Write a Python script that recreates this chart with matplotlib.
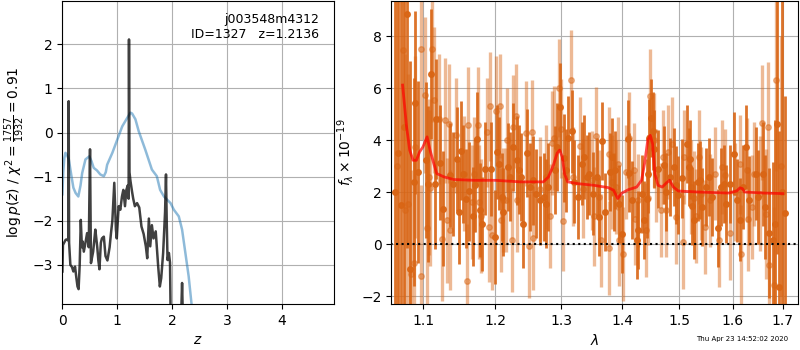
import numpy as np
import matplotlib
matplotlib.use('Agg')
import matplotlib.pyplot as plt
from matplotlib.ticker import FixedLocator, NullLocator, NullFormatter

# --- left panel: log p(z) and scaled chi2 ---
z_pz = [0.0, 0.01, 0.03, 0.06, 0.095, 0.108, 0.114, 0.122, 0.145, 0.175, 0.20, 0.23,
        0.255, 0.275, 0.295, 0.315, 0.335, 0.355, 0.37, 0.39, 0.42, 0.45, 0.48, 0.503,
        0.52, 0.56, 0.58, 0.60, 0.635, 0.655, 0.675, 0.70, 0.72, 0.755, 0.785, 0.82,
        0.86, 0.885, 0.91, 0.945, 0.975, 0.99, 1.025, 1.055, 1.085, 1.11, 1.14, 1.165,
        1.19, 1.206, 1.213, 1.222, 1.24, 1.27, 1.29, 1.32, 1.36, 1.40, 1.44, 1.48,
        1.52, 1.545, 1.575, 1.60, 1.63, 1.66, 1.70, 1.745, 1.775, 1.80, 1.835, 1.87,
        1.887, 1.90, 1.915, 1.94, 1.96, 1.975, 2.06, 2.155, 2.18, 2.20, 2.26, 2.45,
        3.0, 4.0, 4.94]
logpz = [-3.15, -2.55, -2.5, -2.43, -2.42, -2.45, 0.71, -2.5, -3.0, -3.05, -3.15, -3.04,
         -3.3, -3.49, -3.55, -3.0, -1.98, -2.6, -2.47, -2.7, -2.5, -2.28, -2.6, -0.38,
         -2.96, -2.7, -2.45, -2.2, -2.6, -2.9, -3.1, -2.5, -2.4, -2.36, -2.8, -2.9,
         -2.6, -2.28, -2.0, -1.14, -2.2, -2.4, -1.67, -1.75, -1.45, -1.3, -1.67, -1.3,
         -1.2, -1.5, 2.11, -0.9, -1.1, -1.35, -1.5, -1.67, -1.6, -1.7, -2.13, -2.3,
         -2.58, -2.85, -1.95, -2.58, -2.1, -2.4, -2.24, -3.04, -3.49, -3.3, -2.73, -1.8,
         -0.95, -2.0, -2.89, -2.73, -2.95, -4.5, -5.5, -4.5, -3.41, -4.5, -6.0, -9.0,
         -15.0, -25.0, -35.0]

z_chi = [0.0, 0.015, 0.035, 0.055, 0.08, 0.117, 0.16, 0.20, 0.24, 0.29, 0.33, 0.36,
         0.42, 0.49, 0.53, 0.57, 0.63, 0.69, 0.755, 0.79, 0.815, 0.91, 1.0, 1.09,
         1.18, 1.24, 1.27, 1.33, 1.39, 1.51, 1.63, 1.72, 1.78, 1.85, 1.905, 1.97,
         2.03, 2.12, 2.18, 2.24, 2.30, 2.35, 2.45, 2.6, 3.0, 4.0, 4.94]
chi_scaled = [-1.4, -0.9, -0.58, -0.46, -0.5, -0.61, -0.95, -1.25, -1.37, -1.45, -1.2, -0.92,
              -0.61, -0.54, -0.65, -0.8, -0.86, -0.95, -0.99, -0.9, -0.73, -0.46, -0.16, 0.14,
              0.33, 0.45, 0.43, 0.3, 0.03, -0.39, -0.84, -0.99, -1.3, -1.45, -1.52, -1.6,
              -1.75, -1.9, -2.2, -2.73, -3.26, -3.86, -5.0, -7.5, -13.0, -24.0, -34.0]

# --- right panel: spectrum, two beams + model ---
wl_a = [1.0631, 1.0672, 1.0708, 1.0744, 1.0779, 1.0822, 1.0870, 1.0887, 1.0931, 1.1031,
        1.1063, 1.1107, 1.1151, 1.1173, 1.1218, 1.1263, 1.1366, 1.1399, 1.1454, 1.1481,
        1.1512, 1.1540, 1.1582, 1.1628, 1.1675, 1.1707, 1.1736, 1.1782, 1.1816, 1.1852,
        1.1934, 1.1992, 1.2024, 1.2049, 1.2097, 1.2119, 1.2194, 1.2216, 1.2267, 1.2316,
        1.2356, 1.2374, 1.2415, 1.2464, 1.2516, 1.2565, 1.2615, 1.2667, 1.2728, 1.2758,
        1.2790, 1.2895, 1.2939, 1.2973, 1.3040, 1.3075, 1.3102, 1.3170, 1.3208, 1.3260,
        1.3329, 1.3368, 1.3410, 1.3448, 1.3517, 1.3577, 1.3614, 1.3658, 1.3700, 1.3795,
        1.3823, 1.3849, 1.3878, 1.3944, 1.4000, 1.4091, 1.4118, 1.4159, 1.4243, 1.4260,
        1.4328, 1.4373, 1.4415, 1.4437, 1.4459, 1.4489, 1.4529, 1.4550, 1.4616, 1.4722,
        1.4751, 1.4822, 1.4899, 1.4929, 1.4983, 1.5043, 1.5140, 1.5169, 1.5196, 1.5228,
        1.5274, 1.5333, 1.5374, 1.5420, 1.5482, 1.5545, 1.5606, 1.5713, 1.5775, 1.5826,
        1.5875, 1.5951, 1.6016, 1.6080, 1.6143, 1.6209, 1.6260, 1.6327, 1.6456, 1.6504,
        1.6589, 1.6635, 1.6721, 1.6802, 1.6848, 1.6889, 1.6929, 1.6990, 1.7050]
fl_a = [2.0, 3.5, 1.5, 4.49, 8.85, -0.94, 2.4, 5.45, 2.78, 3.23,
        2.33, 6.56, 2.33, 4.81, 3.14, 1.37, 2.65, 2.33, 3.29, 1.24,
        3.59, 2.7, 1.76, 2.04, 1.08, 2.27, 4.06, 1.33, 0.77, 2.91,
        2.9, 0.28, 3.55, 3.1, 1.82, 1.24, 2.97, 2.6, 3.74, 3.23,
        2.87, 2.59, 0.79, 3.51, 2.2, 2.46, 1.95, 1.69, 1.82, 1.56,
        2.2, 2.85, 3.74, 5.26, 3.32, 2.85, 4.09, 4.35, 2.4, 1.82,
        3.1, 3.36, 2.59, 2.72, 1.95, 2.59, 1.05, 3.97, 1.24, 2.78,
        3.36, 2.01, 2.85, 1.56, 0.41, 4.03, 2.76, 1.69, 0.15, 0.56,
        1.95, 0.92, 1.76, 2.72, 4.1, 4.87, 4.36, 3.68, 2.91, 3.04,
        2.01, 2.59, 2.97, 2.27, 1.88, 2.53, 3.85, 2.97, 3.26, 1.46,
        0.92, 2.4, 2.46, 1.44, 2.2, 2.59, 1.82, 0.64, 2.2, 2.33,
        1.56, 2.33, 3.49, 1.69, 0.95, 2.2, 3.74, 1.69, 2.72, 1.82,
        2.72, 1.44, 0.43, 0.18, 0.79, 4.64, -1.64, 2.0, 1.2]
er_a = [10, 10, 10, 9, 9, 8, 4, 3.5, 3.5, 3,
        3, 2.5, 2.5, 2.3, 2.2, 2.2, 2.0, 2.0, 2.0, 2.0,
        1.9, 1.9, 1.9, 1.9, 1.9, 1.8, 1.8, 1.8, 1.8, 1.8,
        1.8, 1.8, 1.8, 1.8, 1.7, 1.7, 1.7, 1.7, 1.7, 1.7,
        1.7, 1.7, 1.7, 1.7, 1.7, 1.7, 1.7, 1.7, 1.7, 1.7,
        1.7, 1.7, 1.7, 1.7, 1.7, 1.6, 1.6, 1.6, 1.6, 1.6,
        1.6, 1.6, 1.6, 1.6, 1.6, 1.5, 1.5, 1.5, 1.5, 1.5,
        1.5, 1.5, 1.5, 1.5, 1.5, 1.5, 1.5, 1.5, 1.5, 1.5,
        1.5, 1.5, 1.5, 1.5, 1.5, 1.5, 1.5, 1.5, 1.5, 1.5,
        1.5, 1.5, 1.5, 1.5, 1.5, 1.5, 1.5, 1.5, 1.5, 1.5,
        1.5, 1.5, 1.5, 1.5, 1.5, 1.5, 1.5, 1.5, 1.5, 1.5,
        1.5, 1.5, 1.6, 1.6, 1.6, 1.6, 1.6, 1.7, 1.8, 1.8,
        2.0, 2.0, 2.5, 3, 4, 5, 6, 8, 4.5]

wl_b = [1.0657, 1.0727, 1.0757, 1.0792, 1.0831, 1.0879, 1.0896, 1.0965, 1.0974, 1.1018,
        1.1044, 1.1076, 1.1089, 1.1120, 1.1143, 1.1210, 1.1254, 1.1298, 1.1321, 1.1352,
        1.1366, 1.1444, 1.1558, 1.1592, 1.1606, 1.1661, 1.1698, 1.1746, 1.1771, 1.1802,
        1.1887, 1.1906, 1.1924, 1.1958, 1.2016, 1.2063, 1.2085, 1.2107, 1.2161, 1.2180,
        1.2243, 1.2258, 1.2302, 1.2323, 1.2452, 1.2497, 1.2542, 1.2557, 1.2667, 1.2767,
        1.2828, 1.2854, 1.2880, 1.2962, 1.2988, 1.3025, 1.3154, 1.3181, 1.3297, 1.3352,
        1.3490, 1.3528, 1.3566, 1.3604, 1.3647, 1.3767, 1.3779, 1.3828, 1.3889, 1.3923,
        1.3939, 1.4017, 1.4057, 1.4109, 1.4203, 1.4220, 1.4271, 1.4397, 1.4442, 1.4472,
        1.4546, 1.4588, 1.4676, 1.4704, 1.4764, 1.4793, 1.4864, 1.4941, 1.5060, 1.5091,
        1.5213, 1.5260, 1.5305, 1.5360, 1.5390, 1.5464, 1.5575, 1.5669, 1.5732, 1.5794,
        1.5856, 1.5940, 1.6047, 1.6143, 1.6162, 1.6274, 1.6307, 1.6372, 1.6418, 1.6536,
        1.6569, 1.6655, 1.6702, 1.6721, 1.6815, 1.6855, 1.6959]
fl_b = [3.0, 7.46, 1.31, 1.54, -1.13, -0.72, 3.74, 7.52, -1.23, 5.73,
        0.64, 2.59, 2.15, 7.52, 5.54, 4.81, 0.22, 4.77, 0.92, 4.64,
        0.54, 4.19, 2.72, -1.42, 4.6, 1.63, 2.69, 4.6, 1.63, 1.08,
        4.3, 0.67, 5.31, 0.35, 5.12, 5.32, 0.92, 1.72, 1.69, 4.0,
        0.18, 4.49, 4.92, 1.69, 4.26, -0.08, 4.3, 0.26, 2.14, 2.59,
        1.08, 3.9, 4.09, 6.01, 4.45, 0.88, 6.33, 2.59, 3.77, 2.13,
        2.46, 1.08, 4.15, 1.82, 0.15, -0.13, 3.49, 2.4, 2.2, 3.1,
        0.18, -0.36, 2.78, 4.07, 2.85, 0.99, 1.69, 0.56, 1.79, 5.69,
        4.0, 2.65, 1.31, 3.36, 1.31, 3.55, 3.87, 1.05, 0.09, 3.36,
        2.2, 1.79, 1.08, 3.36, 1.95, 0.67, 1.69, 2.72, 0.15, 2.97,
        2.65, 0.43, 2.01, 3.08, -0.38, 2.85, 0.99, 1.44, 2.72, 1.95,
        4.68, 1.18, 4.51, -0.78, -1.58, 6.33, 3.0]
er_b = [8, 6, 6, 5, 4, 4, 3.5, 3.5, 3.5, 3,
        3, 3, 3, 2.8, 2.8, 2.5, 2.4, 2.4, 2.4, 2.3,
        2.3, 2.2, 2.2, 2.2, 2.2, 2.2, 2.2, 2.2, 2.2, 2.2,
        2.1, 2.1, 2.1, 2.1, 2.1, 2.0, 2.0, 2.0, 2.0, 2.0,
        2.0, 2.0, 2.0, 2.0, 2.0, 2.0, 2.0, 2.0, 2.0, 2.0,
        2.0, 2.0, 2.0, 1.9, 1.9, 1.9, 1.9, 1.9, 1.9, 1.9,
        1.9, 1.9, 1.9, 1.8, 1.8, 1.8, 1.8, 1.8, 1.8, 1.8,
        1.8, 1.8, 1.8, 1.8, 1.8, 1.8, 1.8, 1.8, 1.8, 1.8,
        1.8, 1.8, 1.8, 1.8, 1.8, 1.8, 1.8, 1.8, 1.8, 1.8,
        1.8, 1.8, 1.8, 1.8, 1.8, 1.8, 1.8, 1.8, 1.8, 1.8,
        1.8, 1.8, 1.9, 1.9, 1.9, 2.0, 2.0, 2.0, 2.0, 2.2,
        2.2, 2.5, 2.5, 2.8, 3, 3.5, 5]

wl_model = [1.0727, 1.0779, 1.0820, 1.0864, 1.0908, 1.0950, 1.0994, 1.1050, 1.1090, 1.1140,
            1.1180, 1.1280, 1.1410, 1.1700, 1.2000, 1.2370, 1.2720, 1.2800, 1.2876, 1.2936,
            1.2975, 1.3015, 1.3050, 1.3100, 1.3270, 1.3517, 1.3760, 1.3850, 1.3920, 1.3990,
            1.4100, 1.4243, 1.4327, 1.4380, 1.4435, 1.4480, 1.4519, 1.4560, 1.4615, 1.4690,
            1.4765, 1.4823, 1.4890, 1.4980, 1.5336, 1.5920, 1.6080, 1.6140, 1.6190, 1.6230,
            1.6620, 1.7000]
fl_model = [6.12, 4.51, 3.62, 3.23, 3.23, 3.55, 3.74, 4.13, 3.62, 3.1,
            2.72, 2.59, 2.49, 2.46, 2.46, 2.4, 2.4, 2.59, 3.04, 3.51,
            3.62, 3.36, 2.72, 2.4, 2.33, 2.27, 2.18, 2.08, 1.76, 1.97,
            2.1, 2.2, 2.46, 3.1, 4.0, 4.19, 3.87, 2.72, 2.27, 2.2,
            2.36, 2.46, 2.2, 2.05, 2.01, 1.97, 2.05, 2.17, 2.14, 2.01,
            1.97, 1.95]

wl_ticks = [1.1, 1.2, 1.3, 1.4, 1.5, 1.6, 1.7]

orange = '#d96514'

fig = plt.figure(figsize=(8, 3.5), dpi=100)

ax1 = fig.add_axes([0.078, 0.131, 0.339, 0.866])
ax1.plot(z_chi, chi_scaled, color='tab:blue', alpha=0.5, lw=1.8)
ax1.plot(z_pz, logpz, color='k', alpha=0.75, lw=1.8)
ax1.set_xlim(0, 4.94)
ax1.set_ylim(-3.89, 2.98)
ax1.set_xlabel('$z$')
ax1.set_ylabel(r'$\log p(z)$ / $\chi^2=\frac{1757}{1932}=0.91$')
ax1.grid()
ax1.text(0.945, 0.96, 'j003548m4312\nID=1327   z=1.2136', ha='right', va='top',
         transform=ax1.transAxes, fontsize=9)

ax2 = fig.add_axes([0.489, 0.131, 0.509, 0.866])
ax2.errorbar(wl_b, fl_b, yerr=er_b, marker='o', ms=4, ls='none',
             color=orange, alpha=0.45, elinewidth=2.4)
ax2.errorbar(wl_a, fl_a, yerr=er_a, marker='o', ms=4, ls='none',
             color=orange, alpha=0.9, elinewidth=2)
ax2.plot(wl_model, fl_model, color='r', alpha=0.7, lw=2, zorder=10)
ax2.plot([1.05, 1.75], [0, 0], 'k:', lw=1.5, zorder=11)
ax2.set_xscale('log')
ax2.set_xlim(1.058, 1.7325)
ax2.set_ylim(-2.3, 9.35)
ax2.xaxis.set_major_locator(FixedLocator(wl_ticks))
ax2.xaxis.set_minor_locator(NullLocator())
ax2.xaxis.set_minor_formatter(NullFormatter())
ax2.set_xticklabels(['%.1f' % w for w in wl_ticks])
ax2.set_xlabel(r'$\lambda$')
ax2.set_ylabel(r'$f_\lambda \times 10^{-19}$')
ax2.grid()

fig.text(0.985, 0.022, 'Thu Apr 23 14:52:02 2020', ha='right', va='bottom', fontsize=5)

fig.savefig('out.png', dpi=100)
